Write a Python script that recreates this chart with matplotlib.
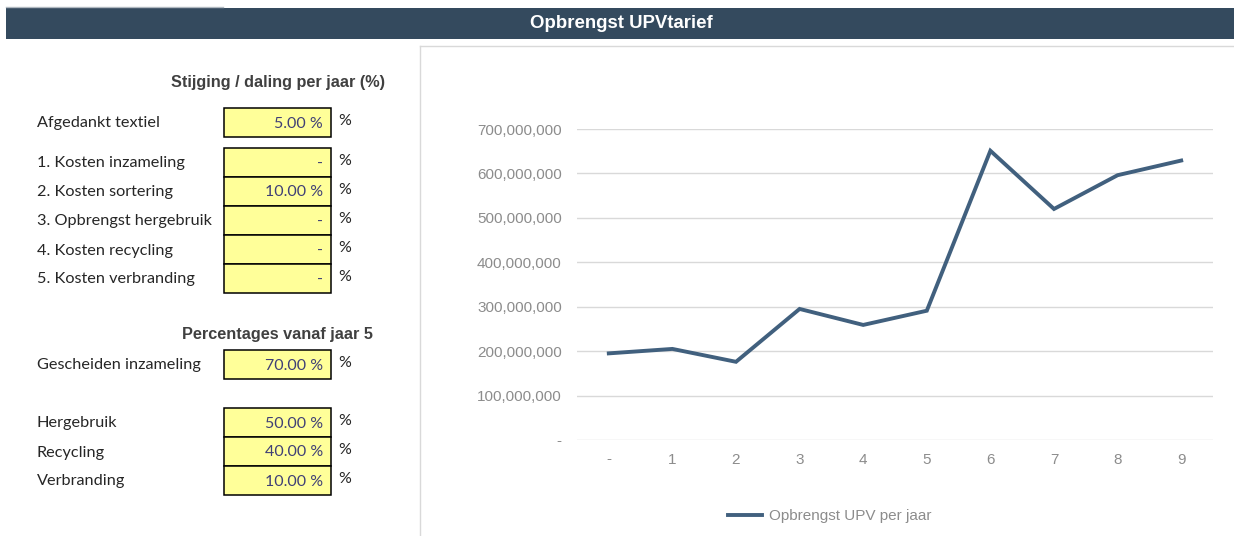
import matplotlib
matplotlib.use("Agg")
import matplotlib.pyplot as plt
from matplotlib.patches import Rectangle
from matplotlib.lines import Line2D
from matplotlib.ticker import FuncFormatter

# ---------------- data ----------------
years = ["-", "1", "2", "3", "4", "5", "6", "7", "8", "9"]
opbrengst = [195e6, 205e6, 176e6, 295e6, 259e6, 291e6, 651e6, 520e6, 596e6, 629e6]

rate_labels = ["Afgedankt textiel", "1. Kosten inzameling", "2. Kosten sortering",
               "3. Opbrengst hergebruik", "4. Kosten recycling", "5. Kosten verbranding"]
rate_values = ["5.00 %", "-", "10.00 %", "-", "-", "-"]

pct_labels = ["Gescheiden inzameling", "Hergebruik", "Recycling", "Verbranding"]
pct_values = ["70.00 %", "50.00 %", "40.00 %", "10.00 %"]

title = "Opbrengst UPVtarief"
heading1 = "Stijging / daling per jaar (%)"
heading2 = "Percentages vanaf jaar 5"
legend_label = "Opbrengst UPV per jaar"

# ---------------- figure ----------------
W, H = 1234, 536
fig = plt.figure(figsize=(W / 100, H / 100), dpi=100)

def fx(x):
    return x / W

def fy(y):
    return 1 - y / H

narrow = ["Liberation Sans Narrow", "Liberation Sans", "DejaVu Sans"]
cal = ["Lato", "DejaVu Sans"]
arial = ["Liberation Sans", "DejaVu Sans"]

# header bar
fig.patches.append(Rectangle((fx(6), fy(39)), fx(1234 - 6), (39 - 8) / H,
                             transform=fig.transFigure, facecolor="#344a5e",
                             edgecolor="none", zorder=1))
fig.lines.append(Line2D([fx(6), fx(223)], [fy(7), fy(7)], transform=fig.transFigure,
                        color="#b0b8c0", lw=1))
fig.text(fx(621), fy(24), title, color="white", fontsize=13.4, fontweight="bold",
         family=arial, ha="center", va="center")

# chart border
fig.lines.append(Line2D([fx(420), fx(420)], [fy(536), fy(46)], transform=fig.transFigure,
                        color="#d9d9d9", lw=1))
fig.lines.append(Line2D([fx(420), fx(1234)], [fy(46), fy(46)], transform=fig.transFigure,
                        color="#d9d9d9", lw=1))

# left panel
label_color = "#262626"
val_color = "#3f3f76"
box_fill = "#ffff99"

fig.text(fx(385), fy(82), heading1, fontsize=11.7, fontweight="bold", family=arial,
         color="#404040", ha="right", va="center")
fig.text(fx(373), fy(334), heading2, fontsize=11.7, fontweight="bold", family=arial,
         color="#404040", ha="right", va="center")

def input_row(label, value, top, bottom):
    fig.patches.append(Rectangle((fx(224), fy(bottom)), fx(331 - 224), (bottom - top) / H,
                                 transform=fig.transFigure, facecolor=box_fill,
                                 edgecolor="black", lw=1.1, zorder=2))
    yc = (top + bottom) / 2 + 1
    fig.text(fx(37), fy(yc), label, fontsize=11.7, family=cal, color=label_color,
             ha="left", va="center")
    fig.text(fx(323), fy(yc), value, fontsize=11.5, family=cal, color=val_color,
             ha="right", va="center", zorder=3)
    fig.text(fx(338), fy(top + 13), "%", fontsize=11.5, family=cal, color=label_color,
             ha="left", va="center")

rate_tops = [108, 148, 177, 206, 235, 264]
for lab, val, t in zip(rate_labels, rate_values, rate_tops):
    input_row(lab, val, t, t + 29)

pct_tops = [350, 408, 437, 466]
for lab, val, t in zip(pct_labels, pct_values, pct_tops):
    input_row(lab, val, t, t + 29)

# ---------------- chart ----------------
ax = fig.add_axes([fx(577), fy(440), fx(1213 - 577), (440 - 129) / H])
x = list(range(len(years)))
line, = ax.plot(x, opbrengst, color="#41607e", lw=2.8, solid_joinstyle="miter",
                label=legend_label, zorder=3)
ax.set_xlim(-0.5, len(years) - 0.5)
ax.set_ylim(0, 700e6)
ax.set_yticks([i * 100e6 for i in range(8)])
ax.yaxis.set_major_formatter(FuncFormatter(lambda v, p: "-" if v == 0 else f"{v:,.0f}"))
ax.set_xticks(x)
ax.set_xticklabels(years)
ax.grid(axis="y", color="#d9d9d9", lw=1)
ax.set_axisbelow(True)
for s in ax.spines.values():
    s.set_visible(False)
ax.tick_params(length=0, labelsize=11, labelcolor="#8c8c8c")
ax.tick_params(axis="y", pad=11)
ax.tick_params(axis="x", pad=9)
for t in ax.get_xticklabels() + ax.get_yticklabels():
    t.set_family(narrow)

leg = fig.legend(handles=[line], labels=[legend_label], loc="center",
                 bbox_to_anchor=(fx(830), fy(516)), frameon=False,
                 prop={"family": narrow, "size": 11}, handlelength=2.2,
                 handletextpad=0.5)
for t in leg.get_texts():
    t.set_color("#8c8c8c")

fig.savefig("out.png", dpi=100)
